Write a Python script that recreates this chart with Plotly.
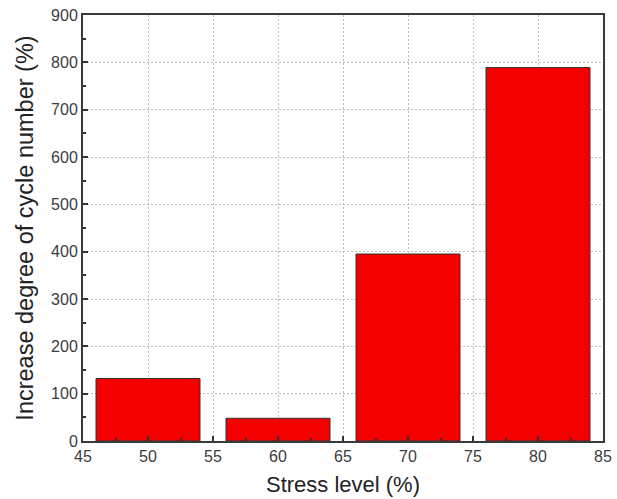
import plotly.graph_objects as go

# Stress level (%) and increase in cycle number (%)
stress_levels = [50, 60, 70, 80]
increase_pct = [132, 48, 395, 789]

x_ticks = [45, 50, 55, 60, 65, 70, 75, 80, 85]
y_ticks = [0, 100, 200, 300, 400, 500, 600, 700, 800, 900]

FONT = "Liberation Sans, Arial, sans-serif"

fig = go.Figure(
    go.Bar(
        x=stress_levels,
        y=increase_pct,
        width=8,
        marker=dict(color="#f50000", line=dict(color="#333333", width=1)),
    )
)

axis_common = dict(
    automargin=False,
    showline=True,
    linecolor="#3a3a3a",
    linewidth=2,
    mirror=True,
    ticks="inside",
    ticklen=5,
    tickwidth=1.5,
    tickcolor="#333333",
    showgrid=True,
    gridcolor="#bdbdbd",
    gridwidth=1,
    griddash="2px,2px",
    zeroline=False,
    tickfont=dict(family=FONT, size=16, color="#3c3c3c"),
)

fig.update_xaxes(
    range=[45, 85],
    tickvals=x_ticks,
    minor=dict(ticks="inside", ticklen=3, dtick=2.5, tick0=45, tickcolor="#333333", showgrid=False),
    title=dict(text="Stress level (%)", standoff=12,
               font=dict(family=FONT, size=22, color="#222222")),
    **axis_common,
)
fig.update_yaxes(
    range=[0, 900],
    tickvals=y_ticks,
    minor=dict(ticks="inside", ticklen=3, dtick=50, tick0=0, tickcolor="#333333", showgrid=False),
    title=dict(text="Increase degree of cycle number (%)", standoff=11,
               font=dict(family=FONT, size=23.5, color="#222222")),
    **axis_common,
)

fig.update_layout(
    width=617,
    height=499,
    margin=dict(l=83, r=14, t=15, b=58),
    plot_bgcolor="white",
    paper_bgcolor="white",
    showlegend=False,
)

fig.write_html("out.html")
